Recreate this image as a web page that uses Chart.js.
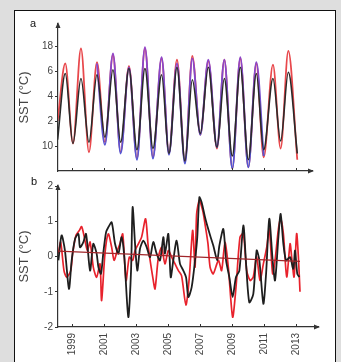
<!DOCTYPE html>
<html>
<head>
<meta charset="utf-8">
<script src="https://cdn.jsdelivr.net/npm/chart.js@4"></script>
<style>
  body { margin: 0; background: #dedede; }
  #page { position: relative; width: 341px; height: 362px; overflow: hidden; }
  #panel { position: absolute; left: 14px; top: 10px; width: 320px; height: 420px; background: #fff; border: 1px solid #111; }
  canvas { position: absolute; left: 0; }
  .tag { position: absolute; font: 11px "Liberation Sans", Arial, sans-serif; color: #111; }
</style>
</head>
<body>
<div id="page">
  <div id="panel"></div>
  <canvas id="chart-a" width="341" height="180" style="top:0"></canvas>
  <canvas id="chart-b" width="341" height="187" style="top:175px"></canvas>
  <div class="tag" style="left:30px; top:17px">a</div>
  <div class="tag" style="left:31px; top:175px">b</div>
</div>
<script>
// panel a: seasonal SST, peaks and troughs
var aYears = [1998.1, 1998.58, 1999.06, 1999.56, 2000.06, 2000.56, 2001.06, 2001.56, 2002.04, 2002.56,
  2003.06, 2003.56, 2004.06, 2004.6, 2005.06, 2005.56, 2006.06, 2006.52, 2007.02, 2007.52,
  2008.06, 2008.52, 2009.02, 2009.52, 2010.02, 2010.52, 2010.98, 2011.56, 2012.04, 2012.52, 2013.08];
var aRed = [12.0, 16.6, 10.2, 17.8, 9.5, 16.7, 10.3, 17.3, 9.5, 16.4,
  9.0, 17.8, 9.1, 17.0, 9.4, 16.9, 8.7, 17.2, 10.9, 16.8,
  9.8, 16.9, 8.2, 17.0, 8.3, 16.6, 9.1, 16.5, 9.8, 17.6, 8.9];
var aPurple = [null, null, null, null, null, 16.6, 10.1, 17.4, 9.4, 16.3,
  8.9, 17.9, 9.0, 17.1, 9.3, 16.6, 8.6, 17.0, 10.9, 16.9,
  9.9, 16.9, 8.2, 17.1, 8.3, 16.7, 9.2, null, null, null, null];
var aBlack = [10.5, 15.8, 10.2, 15.4, 10.3, 15.7, 10.7, 16.1, 10.3, 16.2,
  9.7, 16.2, 9.8, 15.7, 9.4, 16.3, 8.8, 15.3, 11.0, 16.3,
  9.9, 15.4, 9.2, 16.3, 8.9, 15.8, 9.7, 15.4, 10.4, 15.9, 9.4];
var aTickValues = [10, 12, 14, 16, 18];
var aTickLabels = ["10", "2", "4", "6", "18"];

// panel b: anomalies
var bBlackYears = [1998.15, 1998.35, 1998.56, 1998.81, 1998.98, 1999.19, 1999.4, 1999.5, 1999.71, 1999.88,
  2000.13, 2000.33, 2000.54, 2000.65, 2000.81, 2000.96, 2001.13, 2001.27, 2001.48, 2001.69,
  2001.9, 2002.1, 2002.27, 2002.52, 2002.69, 2002.79, 2002.94, 2003.08, 2003.25, 2003.46,
  2003.67, 2003.88, 2004.08, 2004.29, 2004.5, 2004.71, 2004.81, 2005.02, 2005.17, 2005.33,
  2005.54, 2005.75, 2005.96, 2006.13, 2006.27, 2006.48, 2006.69, 2006.83, 2006.96, 2007.1,
  2007.31, 2007.42, 2007.63, 2007.83, 2008.08, 2008.21, 2008.46, 2008.63, 2008.83, 2009.04,
  2009.25, 2009.46, 2009.71, 2009.88, 2010.08, 2010.33, 2010.54, 2010.71, 2010.96, 2011.13,
  2011.33, 2011.54, 2011.69, 2011.9, 2012.04, 2012.21, 2012.38, 2012.63, 2012.83, 2012.94,
  2013.08, 2013.21];
var bBlackVals = [-0.11, 0.6, 0.17, -0.92, -0.11, 0.5, 0.64, 0.26, 0.41, 0.64,
  -0.4, 0.36, 0.08, -0.3, -0.49, 0.12, 0.69, 0.83, 0.97, 0.36,
  0.08, 0.55, -0.02, -1.72, -0.4, 1.4, 0.36, -0.4, 0.22, 0.45,
  0.26, -0.02, 0.41, 0.08, -0.11, 0.55, 0.08, 0.64, -0.59, -0.11,
  0.45, -0.21, -0.4, -0.59, -1.15, -0.87, -0.11, 0.55, 1.68, 1.54,
  1.12, 0.93, 0.6, 0.31, -0.11, 0.31, 0.78, -0.11, -0.58, -1.15,
  -0.58, -0.4, 0.88, -0.21, -1.3, -1.07, 0.17, -0.11, -1.34, -0.49,
  1.07, -0.11, -0.68, 0.55, 1.21, 0.36, -0.11, -0.02, -0.35, 0.17,
  -0.49, -0.58];
var bRedYears = [1998.15, 1998.29, 1998.5, 1998.67, 1998.92, 1999.04, 1999.25, 1999.46, 1999.6, 1999.77,
  1999.96, 2000.13, 2000.33, 2000.54, 2000.75, 2000.85, 2001.06, 2001.27, 2001.48, 2001.63,
  2001.83, 2002.0, 2002.17, 2002.38, 2002.58, 2002.79, 2002.94, 2003.15, 2003.35, 2003.6,
  2003.77, 2004.08, 2004.19, 2004.4, 2004.6, 2004.81, 2005.02, 2005.23, 2005.44, 2005.65,
  2005.85, 2006.12, 2006.33, 2006.54, 2006.69, 2006.79, 2006.96, 2007.17, 2007.31, 2007.5,
  2007.63, 2007.83, 2008.15, 2008.35, 2008.56, 2008.77, 2009.04, 2009.25, 2009.5, 2009.71,
  2009.92, 2010.13, 2010.33, 2010.54, 2010.75, 2010.96, 2011.17, 2011.33, 2011.54, 2011.69,
  2011.9, 2012.04, 2012.21, 2012.42, 2012.63, 2012.73, 2012.88, 2013.04, 2013.15, 2013.25];
var bRedVals = [0.08, 0.41, -0.4, -0.59, -0.4, 0.08, 0.6, 0.74, 0.85, 0.55,
  0.17, 0.41, -0.3, -0.59, -0.21, -1.25, 0.08, 0.64, 0.26, -0.11,
  0.17, 0.36, 0.64, -0.68, -0.02, -0.11, 0.17, 0.36, 0.55, 1.07,
  0.26, -0.68, -0.92, -0.02, 0.26, -0.21, 0.17, -0.02, -0.21, -0.4,
  -0.55, -1.38, -0.6, 0.74, -0.3, 1.21, 1.59, 1.3, 0.93, 0.36,
  -0.3, -0.49, -0.11, -0.4, 0.4, -0.3, -1.72, -0.87, 0.55, 0.65,
  -0.4, -0.68, -0.58, 0.0, -0.68, -0.21, 0.26, 0.78, -0.49, -0.11,
  0.78, 1.07, 0.65, -0.58, 0.36, -0.02, -0.58, 0.65, -0.02, -1.0];
var bTrendYears = [1998.15, 2013.25];
var bTrendVals = [0.15, -0.14];
var bTickValues = [-2, -1, 0, 1, 2];
var bTickLabels = ["-2", "-1", "0", "1", "2"];

var yearTicks = [1999, 2001, 2003, 2005, 2007, 2009, 2011, 2013];

function toPoints(xs, ys) {
  return xs.map(function (x, i) {
    return { x: x, y: ys[i] };
  });
}

var labelFont = { family: "Liberation Sans", size: 10 };
var axisColor = "#333";

// purple line goes magenta at the peaks, bluer in the troughs
function purpleStroke(context) {
  var area = context.chart.chartArea;
  if (!area) return "#7b4fd2";
  var g = context.chart.ctx.createLinearGradient(0, area.top, 0, area.bottom);
  g.addColorStop(0, "#a23cc8");
  g.addColorStop(0.5, "#7450cc");
  g.addColorStop(1, "#4a58d8");
  return g;
}

// arrows on the axes + small inward ticks on x axis
var axisDeco = {
  id: "axisDeco",
  afterDraw: function (chart) {
    var ctx = chart.ctx;
    var area = chart.chartArea;
    var xs = chart.scales.x;
    ctx.save();
    ctx.fillStyle = axisColor;
    ctx.strokeStyle = axisColor;
    ctx.lineWidth = 1;
    ctx.beginPath();
    ctx.moveTo(area.left, area.top - 2);
    ctx.lineTo(area.left - 2.5, area.top + 4);
    ctx.lineTo(area.left + 2.5, area.top + 4);
    ctx.fill();
    ctx.beginPath();
    ctx.moveTo(area.right + 2, area.bottom);
    ctx.lineTo(area.right - 4, area.bottom - 2.5);
    ctx.lineTo(area.right - 4, area.bottom + 2.5);
    ctx.fill();
    yearTicks.forEach(function (yr) {
      var px = Math.round(xs.getPixelForValue(yr)) + 0.5;
      ctx.beginPath();
      ctx.moveTo(px, area.bottom);
      ctx.lineTo(px, area.bottom - 3);
      ctx.stroke();
    });
    ctx.restore();
  },
};

function makeOptions(opts) {
  return {
    responsive: false,
    animation: false,
    devicePixelRatio: 1,
    layout: { padding: { top: opts.top, right: opts.right, left: 0, bottom: 0 } },
    plugins: { legend: { display: false }, tooltip: { enabled: false } },
    elements: { point: { radius: 0 } },
    scales: {
      x: {
        type: "linear",
        min: 1998.125,
        max: opts.xMax,
        afterBuildTicks: function (scale) {
          scale.ticks = yearTicks.map(function (v) { return { value: v }; });
        },
        afterFit: function (scale) { scale.height = opts.xHeight; },
        grid: { display: false, drawTicks: false },
        border: { display: true, color: axisColor, width: 1.2 },
        ticks: {
          display: opts.xLabels,
          minRotation: 90,
          maxRotation: 90,
          autoSkip: false,
          padding: 6,
          color: "#444",
          font: labelFont,
          callback: function (v) { return String(v); },
        },
      },
      y: {
        min: opts.yMin,
        max: opts.yMax,
        afterBuildTicks: function (scale) {
          scale.ticks = opts.tickValues.map(function (v) { return { value: v }; });
        },
        afterFit: function (scale) { scale.width = 58; },
        grid: { display: true, drawOnChartArea: false, drawTicks: true, tickLength: 3, color: axisColor },
        border: { display: true, color: axisColor, width: 1.2 },
        ticks: {
          padding: 2,
          color: "#444",
          font: labelFont,
          callback: function (v, i) { return opts.tickLabels[i]; },
        },
        title: {
          display: true,
          text: "SST (°C)",
          color: "#444",
          font: { family: "Liberation Sans", size: 13 },
          padding: { top: 17, bottom: 0 },
        },
      },
    },
  };
}

// lower "order" is drawn on top
new Chart(document.getElementById("chart-a").getContext("2d"), {
  type: "line",
  data: {
    datasets: [
      { data: toPoints(aYears, aRed), borderColor: "#e8484c", borderWidth: 1.8, cubicInterpolationMode: "monotone", order: 3 },
      { data: toPoints(aYears, aPurple), borderColor: purpleStroke, borderWidth: 1.9, cubicInterpolationMode: "monotone", order: 2 },
      { data: toPoints(aYears, aBlack), borderColor: "#2a2a2a", borderWidth: 1.6, cubicInterpolationMode: "monotone", order: 1 },
    ],
  },
  options: makeOptions({
    top: 24, right: 29, xMax: 2014.0, xHeight: 9, xLabels: false,
    yMin: 8, yMax: 19.76, tickValues: aTickValues, tickLabels: aTickLabels,
  }),
  plugins: [axisDeco],
});

new Chart(document.getElementById("chart-b").getContext("2d"), {
  type: "line",
  data: {
    datasets: [
      { data: toPoints(bRedYears, bRedVals), borderColor: "#e8222c", borderWidth: 1.7, tension: 0.25, order: 3 },
      { data: toPoints(bBlackYears, bBlackVals), borderColor: "#1e1e1e", borderWidth: 1.8, tension: 0.25, order: 2 },
      { data: toPoints(bTrendYears, bTrendVals), borderColor: "#a0262a", borderWidth: 1.2, order: 1 },
    ],
  },
  options: makeOptions({
    top: 11, right: 23, xMax: 2014.375, xHeight: 35, xLabels: true,
    yMin: -2, yMax: 2, tickValues: bTickValues, tickLabels: bTickLabels,
  }),
  plugins: [axisDeco],
});
</script>
</body>
</html>
